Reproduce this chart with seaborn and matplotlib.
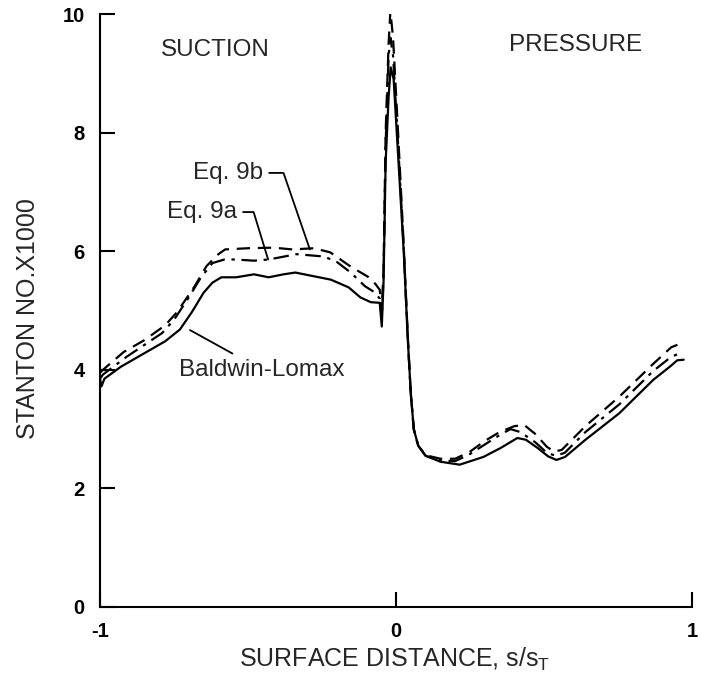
import numpy as np
import pandas as pd
import matplotlib
matplotlib.use("Agg")
import matplotlib.pyplot as plt
import seaborn as sns

# ---- data ----
bl_x = [-1.0, -0.995, -0.985, -0.93, -0.85, -0.78, -0.73, -0.69, -0.65, -0.62, -0.59, -0.54,
        -0.48, -0.43, -0.38, -0.34, -0.28, -0.22, -0.16, -0.12, -0.085, -0.055, -0.048,
        -0.042, -0.035, -0.025, -0.018, -0.008, 0.005, 0.026, 0.04, 0.05, 0.06, 0.075,
        0.1, 0.15, 0.215, 0.295, 0.353, 0.41, 0.439, 0.479, 0.514, 0.542, 0.571, 0.64,
        0.755, 0.869, 0.927, 0.95, 0.972]
bl_y = [3.85, 3.72, 3.85, 4.05, 4.28, 4.48, 4.68, 4.97, 5.30, 5.47, 5.56, 5.56,
        5.61, 5.56, 5.61, 5.64, 5.58, 5.52, 5.39, 5.22, 5.14, 5.13, 4.73,
        5.50, 7.50, 8.60, 9.10, 8.90, 7.80, 6.00, 4.50, 3.60, 3.00, 2.72,
        2.55, 2.45, 2.40, 2.53, 2.68, 2.85, 2.82, 2.68, 2.54, 2.48, 2.53, 2.82,
        3.27, 3.83, 4.06, 4.16, 4.17]

eq9a_x = [-1.0, -0.99, -0.91, -0.85, -0.79, -0.749, -0.704, -0.66, -0.62, -0.58, -0.542,
          -0.48, -0.43, -0.336, -0.243, -0.2, -0.153, -0.105, -0.07, -0.055, -0.048,
          -0.042, -0.035, -0.025, -0.019, -0.01, 0.005, 0.026, 0.04, 0.05, 0.06, 0.075,
          0.1, 0.15, 0.2, 0.25, 0.3, 0.35, 0.387, 0.42, 0.47, 0.51, 0.54, 0.57, 0.64,
          0.755, 0.869, 0.93, 0.97]
eq9a_y = [3.85, 3.92, 4.22, 4.42, 4.62, 4.85, 5.19, 5.55, 5.80, 5.86, 5.86,
          5.84, 5.86, 5.95, 5.91, 5.82, 5.64, 5.41, 5.30, 5.20, 4.85,
          5.60, 7.80, 9.30, 9.60, 9.30, 8.00, 6.05, 4.50, 3.60, 3.00, 2.72,
          2.55, 2.47, 2.46, 2.58, 2.74, 2.90, 3.00, 2.95, 2.78, 2.60, 2.55, 2.60, 2.95,
          3.42, 3.98, 4.22, 4.30]

eq9b_x = [-1.0, -0.99, -0.92, -0.85, -0.78, -0.74, -0.68, -0.64, -0.6, -0.577, -0.5,
          -0.415, -0.35, -0.277, -0.222, -0.153, -0.095, -0.07, -0.055, -0.048, -0.042,
          -0.035, -0.025, -0.019, -0.01, 0.005, 0.026, 0.04, 0.05, 0.06, 0.075, 0.1,
          0.15, 0.2, 0.25, 0.3, 0.35, 0.4, 0.433, 0.47, 0.51, 0.535, 0.56, 0.64, 0.755,
          0.869, 0.93, 0.97]
eq9b_y = [3.95, 4.00, 4.30, 4.50, 4.75, 4.97, 5.41, 5.75, 5.95, 6.03, 6.05,
          6.06, 6.03, 6.05, 5.98, 5.74, 5.57, 5.45, 5.35, 5.00, 5.70,
          8.00, 9.50, 10.05, 9.60, 8.20, 6.10, 4.55, 3.60, 3.00, 2.72, 2.56,
          2.50, 2.50, 2.62, 2.80, 2.95, 3.05, 3.07, 2.92, 2.70, 2.62, 2.65, 3.05, 3.55,
          4.10, 4.38, 4.46]

x_ticks = [-1, 0, 1]
x_tick_labels = ["-1", "0", "1"]
y_ticks = [0, 2, 4, 6, 8, 10]
y_tick_labels = ["0", "2", "4", "6", "8", "10"]

# ---- style ----
sns.set_style("ticks")
plt.rcParams["font.family"] = ["Liberation Sans", "DejaVu Sans"]

fig = plt.figure(figsize=(7.02, 6.79), dpi=100)
ax = fig.add_axes([100 / 702, 72 / 679, 592 / 702, 593 / 679])

lw = 1.6
sns.lineplot(x=bl_x, y=bl_y, ax=ax, color="black", lw=lw, sort=False,
             estimator=None, linestyle="-")
sns.lineplot(x=eq9a_x, y=eq9a_y, ax=ax, color="black", lw=lw, sort=False,
             estimator=None, linestyle=(0, (7, 3, 1.5, 3)))
sns.lineplot(x=eq9b_x, y=eq9b_y, ax=ax, color="black", lw=lw, sort=False,
             estimator=None, linestyle=(0, (6, 3.5)))

ax.set_xlim(-1, 1)
ax.set_ylim(0, 10)
ax.set_xticks(x_ticks)
ax.set_xticklabels(x_tick_labels)
ax.set_yticks(y_ticks)
ax.set_yticklabels(y_tick_labels)
for s in ["top", "right"]:
    ax.spines[s].set_visible(False)
for s in ["left", "bottom"]:
    ax.spines[s].set_linewidth(1.5)
    ax.spines[s].set_color("black")
ax.tick_params(direction="in", length=11, width=1.5, colors="black",
               labelsize=14.5, pad=11)
for lab in ax.get_xticklabels() + ax.get_yticklabels():
    lab.set_fontweight("bold")

ax.set_xlabel("SURFACE DISTANCE, s/s$_\\mathregular{T}$", fontsize=18,
              ha="center", va="center")
ax.set_ylabel("STANTON NO.X1000", fontsize=18, ha="center", va="center")
ax.xaxis.set_label_coords(0.498, -0.089)
ax.yaxis.set_label_coords(-0.122, 0.487)

txt = 17.5
ax.text(-0.611, 9.39, "SUCTION", fontsize=txt, ha="center", va="center")
ax.text(0.605, 9.48, "PRESSURE", fontsize=txt, ha="center", va="center")

ax.annotate("Eq. 9b", xy=(-0.291, 6.03), xytext=(-0.449, 7.32), ha="right", va="center",
            fontsize=txt,
            arrowprops=dict(arrowstyle="-", lw=1.3, color="black", shrinkA=2, shrinkB=0,
                            connectionstyle="angle,angleA=0,angleB=109,rad=0"))
ax.annotate("Eq. 9a", xy=(-0.432, 5.86), xytext=(-0.537, 6.66), ha="right", va="center",
            fontsize=txt,
            arrowprops=dict(arrowstyle="-", lw=1.3, color="black", shrinkA=2, shrinkB=0,
                            connectionstyle="angle,angleA=0,angleB=107,rad=0"))
ax.annotate("Baldwin-Lomax", xy=(-0.696, 4.67), xytext=(-0.453, 4.0), ha="center",
            va="center", fontsize=txt,
            arrowprops=dict(arrowstyle="-", lw=1.3, color="black", shrinkA=3, shrinkB=0))

fig.savefig("out.png", dpi=100)
